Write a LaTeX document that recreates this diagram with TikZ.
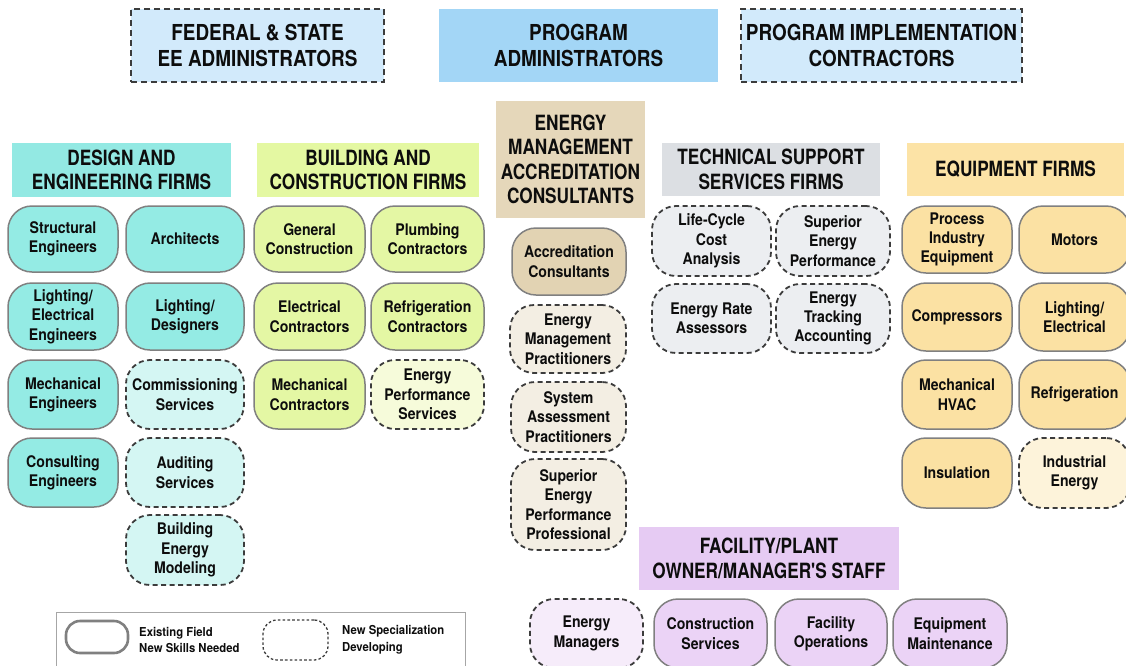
\documentclass[tikz,border=0pt]{standalone}
\usepackage{fontspec}
\setmainfont{TeX Gyre Heros}
\newfontfamily\labelfam{TeX Gyre Heros}[FakeStretch=0.88]
\newfontfamily\headfam{TeX Gyre Heros}[FakeStretch=0.82]
\newfontfamily\topfam{TeX Gyre Heros}[FakeStretch=0.86]
\newfontfamily\legendfam{TeX Gyre Heros}[FakeStretch=0.92]

% fills per group: strong tone for existing fields, pale tone for new ones
\definecolor{topPale}{HTML}{D2EAFB}
\definecolor{topBlue}{HTML}{A3D6F6}
\definecolor{dsgHead}{HTML}{93E9E3}
\definecolor{dsgFill}{HTML}{94EBE4}
\definecolor{dsgPale}{HTML}{D4F6F3}
\definecolor{bldHead}{HTML}{E4F8A2}
\definecolor{bldFill}{HTML}{E4F7A4}
\definecolor{bldPale}{HTML}{F6FBDA}
\definecolor{emHead}{HTML}{E5D7BA}
\definecolor{emFill}{HTML}{E2D3B3}
\definecolor{emPale}{HTML}{F3EEE3}
\definecolor{tsHead}{HTML}{DCDFE3}
\definecolor{tsPale}{HTML}{ECEEF1}
\definecolor{eqHead}{HTML}{FCE3A6}
\definecolor{eqFill}{HTML}{FBE1A3}
\definecolor{eqPale}{HTML}{FDF3DA}
\definecolor{fcHead}{HTML}{E6CBF3}
\definecolor{fcFill}{HTML}{EBD3F6}
\definecolor{fcPale}{HTML}{F6ECFA}
\definecolor{inkText}{HTML}{0D0D0D}
\definecolor{rimGray}{HTML}{808080}
\definecolor{dashGray}{HTML}{3C3C3C}

% \pill{name}{style}{x1}{y1}{x2}{y2}{text}: box spanning the given corners
\newcommand\pill[7]{%
  \node[#2, minimum width={(#5-#3)*1pt}, minimum height={(#6-#4)*1pt}]
    (#1) at ({(#3+#5)/2},{(#4+#6)/2}) {#7};}

\begin{document}
\begin{tikzpicture}[x=1pt,y=-1pt,
  pillbase/.style={rounded corners=24pt, align=center, inner sep=0pt,
    text=inkText, font=\labelfam\bfseries\fontsize{16}{19.3}\selectfont},
  known/.style={pillbase, draw=rimGray, line width=1.5pt},
  emerging/.style={pillbase, draw=dashGray, line width=1.8pt,
    dash pattern=on 5pt off 3.5pt},
  headbox/.style={align=center, inner sep=0pt, text=inkText,
    font=\headfam\bfseries\fontsize{21}{24.5}\selectfont},
  topbox/.style={headbox, font=\topfam\bfseries\fontsize{22}{26}\selectfont},
  topdash/.style={topbox, draw=dashGray, line width=1.6pt,
    dash pattern=on 6pt off 4pt},
  legtext/.style={anchor=west, align=left, inner sep=0pt, text=inkText,
    font=\legendfam\bfseries\fontsize{12.3}{16.8}\selectfont}
]
\useasboundingbox (0,0) rectangle (1126,665);
\fill[white] (0,0) rectangle (1126,665);

% top row of administrators
\pill{fed}{topdash, fill=topPale}{131}{9}{384}{82}{FEDERAL \& STATE\\EE ADMINISTRATORS}
\pill{prog}{topbox, fill=topBlue}{439}{9}{718}{82}{PROGRAM\\ADMINISTRATORS}
\pill{impl}{topdash, fill=topPale}{741}{9}{1022}{82}{PROGRAM IMPLEMENTATION\\CONTRACTORS}

% design and engineering firms
\pill{hdsg}{headbox, fill=dsgHead}{12}{143}{231}{197}{DESIGN AND\\ENGINEERING FIRMS}
\pill{d1}{known, fill=dsgFill}{8}{206}{118}{272}{Structural\\Engineers}
\pill{d2}{known, fill=dsgFill}{126}{206}{244}{272}{Architects}
\pill{d3}{known, fill=dsgFill}{8}{283}{118}{350}{Lighting/\\Electrical\\Engineers}
\pill{d4}{known, fill=dsgFill}{126}{283}{244}{350}{Lighting/\\Designers}
\pill{d5}{known, fill=dsgFill}{8}{360}{118}{429}{Mechanical\\Engineers}
\pill{d6}{emerging, fill=dsgPale}{126}{360}{244}{429}{Commissioning\\Services}
\pill{d7}{known, fill=dsgFill}{8}{438}{118}{507}{Consulting\\Engineers}
\pill{d8}{emerging, fill=dsgPale}{126}{438}{244}{507}{Auditing\\Services}
\pill{d9}{emerging, fill=dsgPale}{126}{515}{244}{585}{Building\\Energy\\Modeling}

% building and construction firms
\pill{hbld}{headbox, fill=bldHead}{257}{143}{479}{197}{BUILDING AND\\CONSTRUCTION FIRMS}
\pill{b1}{known, fill=bldFill}{254}{206}{365}{272}{General\\Construction}
\pill{b2}{known, fill=bldFill}{371}{206}{484}{272}{Plumbing\\Contractors}
\pill{b3}{known, fill=bldFill}{254}{283}{365}{350}{Electrical\\Contractors}
\pill{b4}{known, fill=bldFill}{371}{283}{484}{350}{Refrigeration\\Contractors}
\pill{b5}{known, fill=bldFill}{254}{360}{365}{429}{Mechanical\\Contractors}
\pill{b6}{emerging, fill=bldPale}{371}{360}{484}{429}{Energy\\Performance\\Services}

% energy management accreditation consultants
\pill{hem}{headbox, fill=emHead}{496}{101}{645}{218}{ENERGY\\MANAGEMENT\\ACCREDITATION\\CONSULTANTS}
\pill{e1}{known, fill=emFill}{512}{228}{626}{295}{Accreditation\\Consultants}
\pill{e2}{emerging, fill=emPale}{510}{305}{626}{373}{Energy\\Management\\Practitioners}
\pill{e3}{emerging, fill=emPale}{511}{382}{626}{452}{System\\Assessment\\Practitioners}
\pill{e4}{emerging, fill=emPale}{511}{459}{626}{550}{Superior\\Energy\\Performance\\Professional}

% technical support services firms
\pill{hts}{headbox, fill=tsHead}{662}{143}{880}{196}{TECHNICAL SUPPORT\\SERVICES FIRMS}
\pill{t1}{emerging, fill=tsPale}{652}{206}{771}{276}{Life-Cycle\\Cost\\Analysis}
\pill{t2}{emerging, fill=tsPale}{776}{206}{890}{276}{Superior\\Energy\\Performance}
\pill{t3}{emerging, fill=tsPale}{652}{284}{771}{353}{Energy Rate\\Assessors}
\pill{t4}{emerging, fill=tsPale}{776}{284}{890}{353}{Energy\\Tracking\\Accounting}

% equipment firms
\pill{heq}{headbox, fill=eqHead}{907}{143}{1124}{196}{EQUIPMENT FIRMS}
\pill{q1}{known, fill=eqFill}{902}{206}{1012}{273}{Process\\Industry\\Equipment}
\pill{q2}{known, fill=eqFill}{1019}{206}{1130}{273}{Motors}
\pill{q3}{known, fill=eqFill}{902}{283}{1012}{351}{Compressors}
\pill{q4}{known, fill=eqFill}{1019}{283}{1130}{351}{Lighting/\\Electrical}
\pill{q5}{known, fill=eqFill}{902}{360}{1012}{429}{Mechanical\\HVAC}
\pill{q6}{known, fill=eqFill}{1019}{360}{1130}{429}{Refrigeration}
\pill{q7}{known, fill=eqFill}{902}{438}{1012}{508}{Insulation}
\pill{q8}{emerging, fill=eqPale}{1019}{438}{1130}{508}{Industrial\\Energy}

% facility / plant owner staff
\pill{hfc}{headbox, fill=fcHead}{639}{527}{899}{590}{FACILITY/PLANT\\OWNER/MANAGER'S STAFF}
\pill{f1}{emerging, fill=fcPale}{530}{599}{643}{668}{Energy\\Managers}
\pill{f2}{known, fill=fcFill}{654}{599}{767}{668}{Construction\\Services}
\pill{f3}{known, fill=fcFill}{775}{599}{887}{668}{Facility\\Operations}
\pill{f4}{known, fill=fcFill}{893}{599}{1007}{668}{Equipment\\Maintenance}

% legend
\pill{legbox}{draw=black!35, line width=1pt, fill=white}{56}{612}{465}{672}{}
\pill{legold}{draw=black!50, line width=2.6pt, rounded corners=14pt}{66}{621}{128}{653}{}
\node[legtext] (legoldtxt) at (139,640) {Existing Field\\New Skills Needed};
\pill{legnew}{draw=dashGray, line width=1.3pt, dash pattern=on 2.6pt off 2.2pt, rounded corners=14pt}{263}{620}{328}{660}{}
\node[legtext] (legnewtxt) at (342,640) {New Specialization\\Developing};
\end{tikzpicture}
\end{document}
